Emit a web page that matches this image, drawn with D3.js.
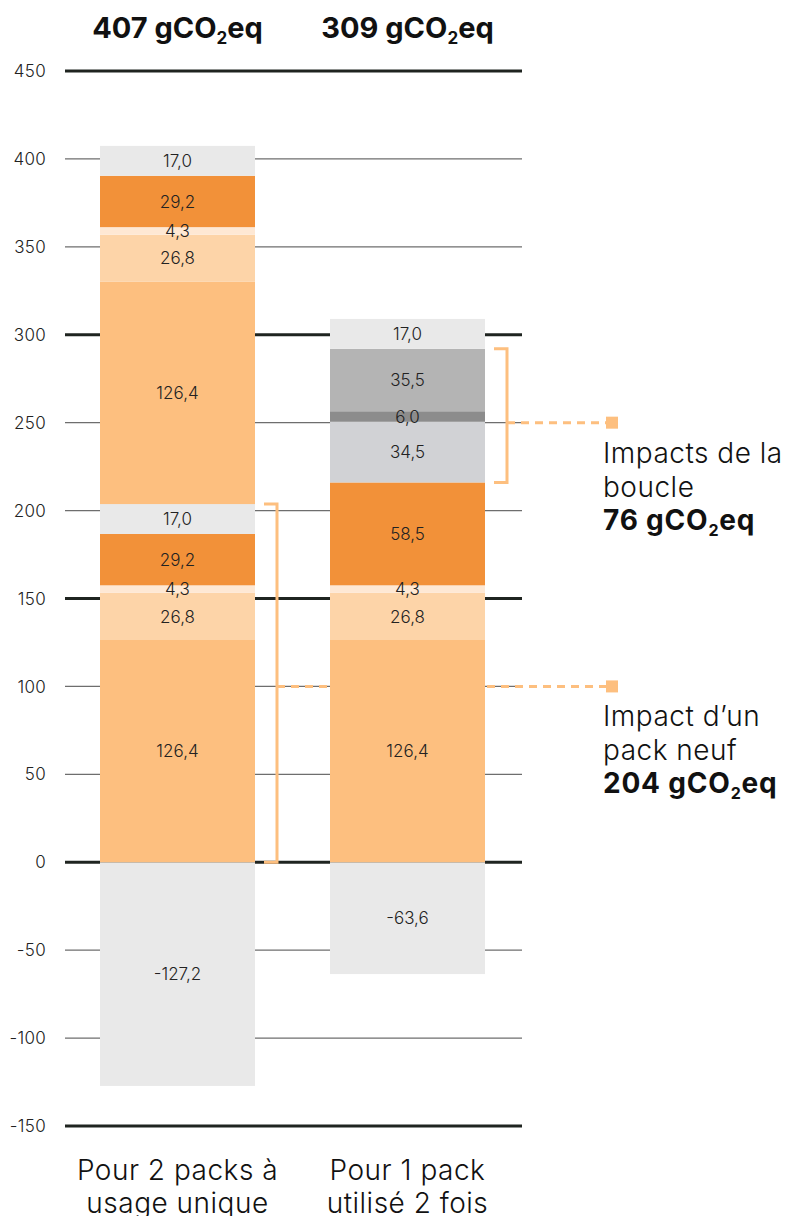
<!DOCTYPE html>
<html><head><meta charset="utf-8">
<script src="https://cdn.jsdelivr.net/npm/d3@7"></script>
<style>
html,body{margin:0;padding:0;background:#fff;}
svg{display:block;font-family:Inter,"Noto Sans",sans-serif;}
</style></head>
<body><svg id="c" width="787" height="1216"></svg>
<script>
// ---- data ----
const categories = ["Pour 2 packs à usage unique", "Pour 1 pack utilisé 2 fois"];
const categoryLines = [["Pour 2 packs à", "usage unique"], ["Pour 1 pack", "utilisé 2 fois"]];
const totals = ["407", "309"];
const bar1Keys = ["a","b","c","d","e","a","b","c","d","e"];
const bar1Values = [126.4, 26.8, 4.3, 29.2, 17.0, 126.4, 26.8, 4.3, 29.2, 17.0];
const bar2Keys = ["a","b","c","d","g","h","i","e"];
const bar2Values = [126.4, 26.8, 4.3, 58.5, 34.5, 6.0, 35.5, 17.0];
const negativeValues = [-127.2, -63.6];
const yTicks = [450, 400, 350, 300, 250, 200, 150, 100, 50, 0, -50, -100, -150];
const majorTicks = [450, 300, 150, 0, -150];
const annoLines = [["Impacts de la", "boucle"], ["Impact d’un", "pack neuf"]];
const annoTotals = ["76", "204"];
const annoAnchors = [250, 100];           // value at which the connector is drawn
const newPackSegments = 5;                 // bar 1: first 5 segments = one new pack
const loopRange = [4, 7];                  // bar 2: segments 4..6 = loop

// ---- styles ----
const colors = {a:"#fdbf7f", b:"#fdd4a8", c:"#fee8d4", d:"#f29139", e:"#e9e9e9",
                g:"#d1d2d5", h:"#8c8c8c", i:"#b4b4b4", neg:"#e9e9e9"};
const accent = "#fdbf7f";

const svg = d3.select("#c");
const y = d3.scaleLinear().domain([-150, 450]).range([1126, 71]);
const x = d3.scaleBand().domain(categories).range([100, 485]).paddingInner(75/230).paddingOuter(0);
const gridX0 = 65, gridX1 = 522;
const loc = d3.formatLocale({decimal: ",", thousands: " ", grouping: [3], currency: ["", ""], minus: "-"});
const fmt = loc.format(".1f");
const fmtTick = loc.format("d");

// gridlines
svg.append("g").selectAll("line").data(yTicks).join("line")
  .attr("x1", gridX0).attr("x2", gridX1)
  .attr("y1", d => y(d)).attr("y2", d => y(d))
  .attr("stroke", d => majorTicks.includes(d) ? "#1f2420" : "#6e6e6e")
  .attr("stroke-width", d => majorTicks.includes(d) ? 3 : 1.3);

// tick labels
svg.append("g").selectAll("text").data(yTicks).join("text")
  .attr("x", 46).attr("y", d => y(d)).attr("dy", "0.36em")
  .attr("text-anchor", "end").attr("font-size", 17).attr("fill", "#222")
  .attr("font-weight", 300).attr("letter-spacing", 0.3)
  .text(d => fmtTick(d));

// connectors (dashed) – drawn under bars
const bw = x.bandwidth();
const br1x = x(categories[0]) + bw + 22;
const br2x = x(categories[1]) + bw + 22;
const sqX = 612;
[[br1x, annoAnchors[1]], [br2x, annoAnchors[0]]].forEach(([sx, v]) => {
  svg.append("line").attr("x1", sx).attr("x2", sqX).attr("y1", y(v)).attr("y2", y(v))
    .attr("stroke", accent).attr("stroke-width", 3).attr("stroke-dasharray", "8,6");
  svg.append("rect").attr("x", sqX - 6).attr("y", y(v) - 6).attr("width", 12).attr("height", 12)
    .attr("fill", accent);
});

// stacked segments
function stack(keys, vals) {
  let acc = 0;
  return vals.map((v, i) => { const s = {key: keys[i], value: v, y0: acc, y1: acc + v}; acc += v; return s; });
}
const bars = [stack(bar1Keys, bar1Values), stack(bar2Keys, bar2Values)];

bars.forEach((segs, bi) => {
  const g = svg.append("g");
  const cat = categories[bi];
  // negative bar
  g.append("rect").attr("x", x(cat)).attr("width", bw)
    .attr("y", y(0)).attr("height", y(negativeValues[bi]) - y(0))
    .attr("fill", colors.neg);
  g.append("text").attr("x", x(cat) + bw/2).attr("y", y(negativeValues[bi] / 2)).attr("dy", "0.36em")
    .attr("text-anchor", "middle").attr("font-size", 17).attr("fill", "#222").attr("font-weight", 300)
    .text(fmt(negativeValues[bi]));
  g.selectAll("rect.seg").data(segs).join("rect").attr("class", "seg")
    .attr("x", x(cat)).attr("width", bw)
    .attr("y", d => y(d.y1)).attr("height", d => y(d.y0) - y(d.y1))
    .attr("fill", d => colors[d.key]);
  g.selectAll("text.lab").data(segs).join("text").attr("class", "lab")
    .attr("x", x(cat) + bw/2).attr("y", d => y((d.y0 + d.y1) / 2)).attr("dy", "0.36em")
    .attr("text-anchor", "middle").attr("font-size", 17).attr("fill", "#222").attr("font-weight", 300)
    .text(d => fmt(d.value));
  // header total
  const h = svg.append("text").attr("x", x(cat) + bw/2).attr("y", 38)
    .attr("text-anchor", "middle").attr("font-size", 29).attr("font-weight", 700).attr("fill", "#111");
  h.append("tspan").text(totals[bi] + " gCO");
  h.append("tspan").attr("font-size", 17).attr("dy", 6).text("2");
  h.append("tspan").attr("dy", -6).text("eq");
  // category label
  const t = svg.append("text").attr("x", x(cat) + bw/2).attr("y", 1180)
    .attr("text-anchor", "middle").attr("font-size", 28).attr("font-weight", 300)
    .attr("letter-spacing", 0.5).attr("fill", "#111");
  categoryLines[bi].forEach((l, li) => t.append("tspan").attr("x", x(cat) + bw/2).attr("dy", li ? 33 : 0).text(l));
});

// brackets
function bracket(xr, v0, v1) {
  const p = d3.path();
  p.moveTo(xr - 13, y(v1)); p.lineTo(xr, y(v1)); p.lineTo(xr, y(v0)); p.lineTo(xr - 13, y(v0));
  svg.append("path").attr("d", p.toString()).attr("fill", "none")
    .attr("stroke", accent).attr("stroke-width", 3);
}
bracket(br1x, 0, bars[0][newPackSegments - 1].y1);
bracket(br2x, bars[1][loopRange[0]].y0, bars[1][loopRange[1] - 1].y1);

// annotation texts
annoAnchors.forEach((v, i) => {
  const base = y(v) + 40;
  const t = svg.append("text").attr("font-size", 28).attr("fill", "#111").attr("font-weight", 300)
    .attr("letter-spacing", 0.5);
  annoLines[i].forEach((l, li) => t.append("tspan").attr("x", 603).attr("y", base + li * 34).text(l));
  const b = svg.append("text").attr("x", 603).attr("y", base + 67)
    .attr("font-size", 28).attr("font-weight", 700).attr("fill", "#111").attr("letter-spacing", 0.8);
  b.append("tspan").text(annoTotals[i] + " gCO");
  b.append("tspan").attr("font-size", 16).attr("dy", 6).text("2");
  b.append("tspan").attr("dy", -6).text("eq");
});
</script></body></html>
